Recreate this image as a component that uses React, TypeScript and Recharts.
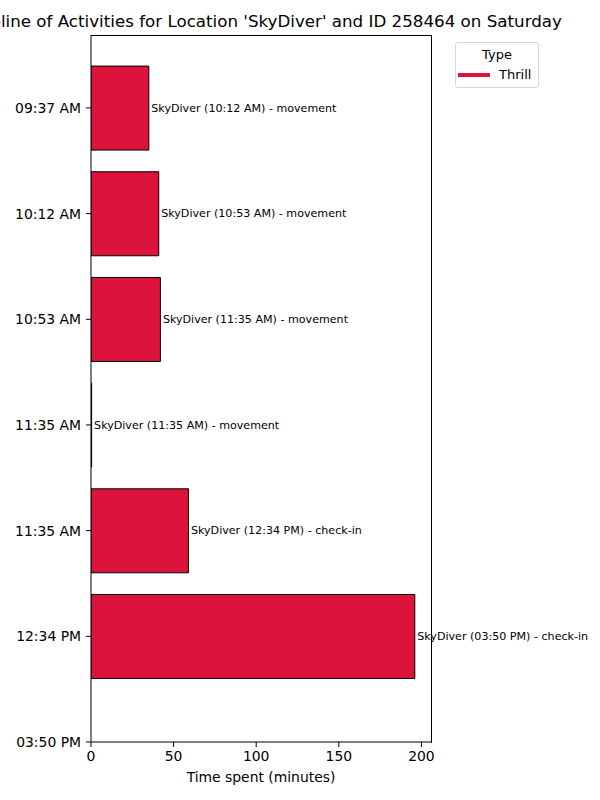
import React from "react";
import { BarChart, Bar, XAxis, YAxis, LabelList } from "recharts";

const timeLabels = ["09:37 AM", "10:12 AM", "10:53 AM", "11:35 AM", "11:35 AM", "12:34 PM", "03:50 PM"];
const durations = [35, 41, 42, 0, 59, 196];
const barLabels = [
  "SkyDiver (10:12 AM) - movement",
  "SkyDiver (10:53 AM) - movement",
  "SkyDiver (11:35 AM) - movement",
  "SkyDiver (11:35 AM) - movement",
  "SkyDiver (12:34 PM) - check-in",
  "SkyDiver (03:50 PM) - check-in",
];
const types = ["Thrill", "Thrill", "Thrill", "Thrill", "Thrill", "Thrill"];

const FONT = "'DejaVu Sans', sans-serif";
const CRIMSON = "#DC143C";

const chartData = durations.map((d, i) => ({
  pos: i,
  minutes: d,
  label: barLabels[i],
  type: types[i],
}));

const renderLabel = (props: any) => {
  const { x, y, width, height, value } = props;
  return (
    <text
      x={Number(x) + Number(width) + 2.5}
      y={Number(y) + Number(height) / 2}
      dominantBaseline="central"
      fontSize={11.1}
      fontFamily={FONT}
      fill="#000"
    >
      {value}
    </text>
  );
};

export default function App() {
  return (
    <div style={{ position: "absolute", left: 0, top: 0, width: 600, height: 800, background: "#fff", fontFamily: FONT }}>
      <div
        style={{
          position: "absolute",
          left: 261,
          top: 11,
          transform: "translateX(-50%)",
          whiteSpace: "nowrap",
          fontSize: 16.7,
          color: "#000",
        }}
      >
        Timeline of Activities for Location 'SkyDiver' and ID 258464 on Saturday
      </div>
      <div
        style={{
          position: "absolute",
          left: 455,
          top: 42,
          width: 82,
          height: 44,
          border: "1px solid #d6d6d6",
          borderRadius: 3,
          fontSize: 13,
          color: "#000",
        }}
      >
        <div style={{ position: "absolute", top: 4, width: "100%", textAlign: "center" }}>Type</div>
        <div style={{ position: "absolute", left: 2, top: 30, width: 32, height: 4, background: CRIMSON }} />
        <div style={{ position: "absolute", left: 43, top: 24 }}>Thrill</div>
      </div>
      <BarChart
        width={600}
        height={800}
        data={chartData}
        layout="vertical"
        margin={{ top: 35, right: 169, bottom: 22, left: 11 }}
      >
        <XAxis
          type="number"
          dataKey="minutes"
          domain={[0, 205.8]}
          ticks={[0, 50, 100, 150, 200]}
          allowDataOverflow
          tick={{ fill: "#000", fontSize: 13.9, fontFamily: FONT }}
          tickSize={5}
          tickMargin={4}
          axisLine={{ stroke: "#000" }}
          tickLine={{ stroke: "#000" }}
          height={36}
          label={{ value: "Time spent (minutes)", position: "insideBottom", offset: -4, fill: "#000", fontSize: 13.9, fontFamily: FONT }}
        />
        <YAxis
          type="number"
          dataKey="pos"
          domain={[-0.69, 6]}
          ticks={[0, 1, 2, 3, 4, 5, 6]}
          allowDataOverflow
          tickFormatter={(v: number) => timeLabels[v]}
          tick={{ fill: "#000", fontSize: 13.9, fontFamily: FONT }}
          tickSize={5}
          tickMargin={5}
          axisLine={{ stroke: "#000" }}
          tickLine={{ stroke: "#000" }}
          width={80}
        />
        <Bar
          dataKey="minutes"
          fill={CRIMSON}
          stroke="#000"
          strokeWidth={1}
          barSize={84}
          minPointSize={0.6}
          isAnimationActive={false}
        >
          <LabelList dataKey="label" content={renderLabel} />
        </Bar>
      </BarChart>
      <div
        style={{
          position: "absolute",
          left: 91,
          top: 35,
          width: 340,
          height: 707,
          borderTop: "1px solid #000",
          borderRight: "1px solid #000",
          pointerEvents: "none",
        }}
      />
    </div>
  );
}
